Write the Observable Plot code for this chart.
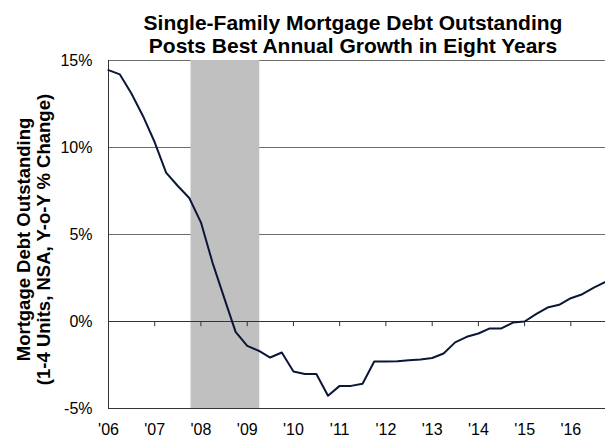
<!DOCTYPE html>
<html>
<head>
<meta charset="utf-8">
<script src="https://cdn.jsdelivr.net/npm/d3@7"></script>
<script src="https://cdn.jsdelivr.net/npm/@observablehq/plot@0.6"></script>
<style>
  body { margin: 0; background: #fff; }
</style>
</head>
<body>
<div id="chart"></div>
<script>
const quarters = [
  "2006-01-01","2006-04-01","2006-07-01","2006-10-01",
  "2007-01-01","2007-04-01","2007-07-01","2007-10-01",
  "2008-01-01","2008-04-01","2008-07-01","2008-10-01",
  "2009-01-01","2009-04-01","2009-07-01","2009-10-01",
  "2010-01-01","2010-04-01","2010-07-01","2010-10-01",
  "2011-01-01","2011-04-01","2011-07-01","2011-10-01",
  "2012-01-01","2012-04-01","2012-07-01","2012-10-01",
  "2013-01-01","2013-04-01","2013-07-01","2013-10-01",
  "2014-01-01","2014-04-01","2014-07-01","2014-10-01",
  "2015-01-01","2015-04-01","2015-07-01","2015-10-01",
  "2016-01-01","2016-04-01","2016-07-01","2016-10-01"
];
const growth = [
  14.45, 14.2, 13.1, 11.8,
  10.3, 8.56, 7.8, 7.1,
  5.7, 3.4, 1.4, -0.6,
  -1.4, -1.68, -2.07, -1.78,
  -2.87, -3.02, -3.02, -4.27,
  -3.7, -3.7, -3.58, -2.3,
  -2.3, -2.28, -2.23, -2.18,
  -2.1, -1.84, -1.2, -0.88,
  -0.69, -0.4, -0.4, -0.06,
  0.0, 0.42, 0.8, 0.96,
  1.34, 1.57, 1.95, 2.28
];
const yearTicks = ["2006","2007","2008","2009","2010","2011","2012","2013","2014","2015","2016"];
const yTicks = [-5, 0, 5, 10, 15];
const gridValues = [5, 10, 15];
const recessionStart = ["2007-10-15"];
const recessionEnd = ["2009-04-10"];
const titleLines = ["Single-Family Mortgage Debt Outstanding", "Posts Best Annual Growth in Eight Years"];
const yLabelLines = ["Mortgage Debt Outstanding", "(1-4 Units, NSA, Y-o-Y % Change)"];

const parse = d3.utcParse("%Y-%m-%d");
const data = quarters.map((q, i) => ({date: parse(q), value: growth[i]}));
const yearDates = yearTicks.map(y => d3.utcParse("%Y")(y));
const recession = recessionStart.map((s, i) => ({start: parse(s), end: parse(recessionEnd[i])}));
const xDomain = [data[0].date, data[data.length - 1].date];

const chart = Plot.plot({
  width: 605,
  height: 437,
  marginLeft: 108,
  marginRight: 0,
  marginTop: 60,
  marginBottom: 29,
  style: {fontFamily: "'Liberation Sans', Arial, sans-serif", fontSize: "16px", color: "#000", background: "#fff"},
  x: {type: "utc", domain: xDomain},
  y: {domain: [-5, 15]},
  marks: [
    Plot.ruleY(gridValues, {stroke: "#6e6e6e", strokeWidth: 1}),
    Plot.ruleY([-5], {stroke: "#333", strokeWidth: 1}),
    Plot.rect(recession, {x1: "start", x2: "end", y1: -5, y2: 15, fill: "#c0c0c0"}),
    Plot.ruleY([0], {stroke: "#333", strokeWidth: 1}),
    Plot.ruleX([xDomain[0]], {y1: -5, y2: 15, stroke: "#333", strokeWidth: 1}),
    Plot.ruleX(yearDates, {y1: 0, y2: -0.3, stroke: "#333", strokeWidth: 1}),
    Plot.line(data, {x: "date", y: "value", stroke: "#0b1736", strokeWidth: 2}),
    Plot.axisY({ticks: yTicks, tickFormat: d => d + "%", tickSize: 0, tickPadding: 16, label: null, fontSize: 16}),
    Plot.axisX({ticks: yearDates, tickFormat: d => "'" + String(d.getUTCFullYear()).slice(2), tickSize: 0, tickPadding: 15, label: null, fontSize: 16}),
    Plot.text([titleLines.join("\n")], {frameAnchor: "top", lineAnchor: "top", dx: -4, dy: -48, fontSize: 21, fontWeight: "bold", lineHeight: 1.14, fill: "#000"}),
    Plot.text([yLabelLines.join("\n")], {frameAnchor: "left", textAnchor: "middle", rotate: -90, dx: -74.5, dy: 5, fontSize: 18.5, fontWeight: "bold", lineHeight: 1.07, fill: "#000"})
  ]
});
document.getElementById("chart").appendChild(chart);
</script>
</body>
</html>
